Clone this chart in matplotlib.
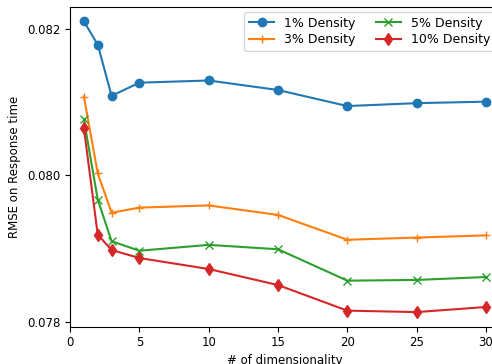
import matplotlib
matplotlib.use("Agg")
import matplotlib.pyplot as plt
from matplotlib.ticker import MultipleLocator

dims = [1, 2, 3, 5, 10, 15, 20, 25, 30]
density_1 = [0.08211, 0.08179, 0.08109, 0.08127, 0.08130, 0.08117, 0.08095, 0.08099, 0.08101]
density_3 = [0.08108, 0.08003, 0.07949, 0.07956, 0.07959, 0.07946, 0.07912, 0.07915, 0.07918]
density_5 = [0.08077, 0.07967, 0.07910, 0.07897, 0.07905, 0.07899, 0.07856, 0.07857, 0.07861]
density_10 = [0.08065, 0.07919, 0.07898, 0.07887, 0.07872, 0.07850, 0.07815, 0.07813, 0.07820]
labels = ["1% Density", "3% Density", "5% Density", "10% Density"]

plt.rcParams['font.size'] = 8.5

fig = plt.figure(figsize=(4.92, 3.64), dpi=100)
ax = fig.add_axes([70/492, 37.3/364, (31.0*13.867)/492, (326.7-6.7)/364])

ax.plot(dims, density_1, marker='o', color='#1f77b4', label=labels[0])
ax.plot(dims, density_3, marker='+', color='#ff7f0e', label=labels[1])
ax.plot(dims, density_5, marker='x', color='#2ca02c', label=labels[2])
ax.plot(dims, density_10, marker='d', color='#d62728', label=labels[3])

ax.set_xlim(0, 31.0)
ax.set_ylim(0.07793, 0.08231)
ax.xaxis.set_major_locator(MultipleLocator(5))
ax.yaxis.set_major_locator(MultipleLocator(0.002))
ax.set_xlabel("# of dimensionality", labelpad=3)
ax.set_ylabel("RMSE on Response time")
ax.legend(ncol=2, loc='upper right', fontsize=9, borderaxespad=0.4,
          labelspacing=0.3, columnspacing=1.6)

fig.savefig("out.png", dpi=100)
